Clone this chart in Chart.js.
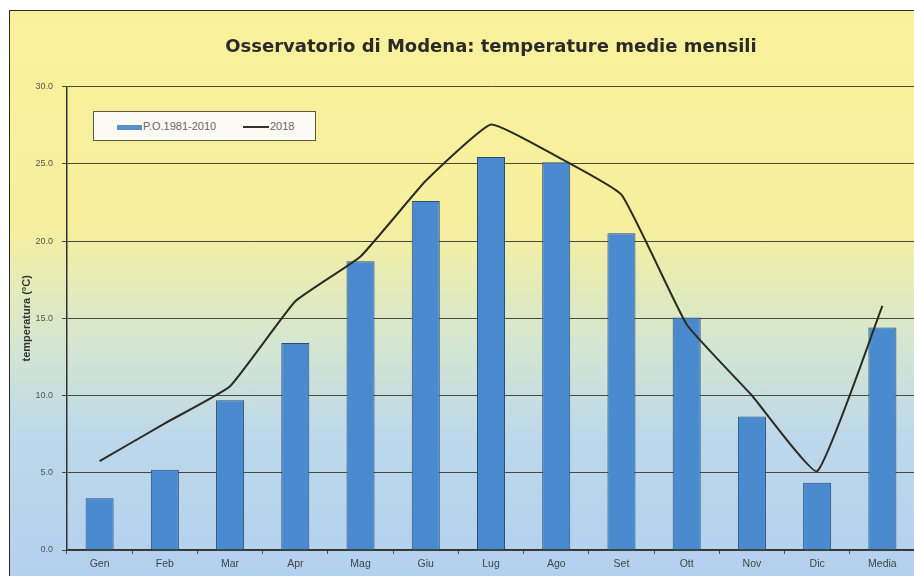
<!DOCTYPE html>
<html>
<head>
<meta charset="utf-8">
<script src="https://cdn.jsdelivr.net/npm/chart.js@4"></script>
<style>
    html, body { margin: 0; padding: 0; background: #fff; overflow: hidden; }
    #frame {
        position: absolute; left: 9px; top: 10px; width: 905px; height: 566px;
        border-top: 1px solid #2a2a2a; border-left: 1px solid #2a2a2a;
        background: linear-gradient(to bottom, #f9f19a 0%, #f6ef9e 38%, #d6e7d0 58%, #bdd8ea 75%, #b2d1ef 100%);
    }
    #wrap { position: absolute; left: 0; top: 0; width: 905px; height: 566px; }
    #legend {
        position: absolute; left: 83px; top: 100px; width: 221px; height: 28px;
        border: 1px solid #5a5a40; background: #fbfbf4;
        font-family: "Liberation Sans", Arial, sans-serif; font-size: 11px; color: #666;
    }
    #legend .item { position: absolute; top: 8px; height: 12px; line-height: 12px; white-space: nowrap; }
    #legend .sw-bar { display: inline-block; width: 25px; height: 5px; background: #5a8fc8; vertical-align: middle; margin-right: 1px; }
    #legend .sw-line { display: inline-block; width: 26px; height: 2px; background: #333; vertical-align: middle; margin-right: 1px; }
</style>
</head>
<body>
<div id="frame">
    <div id="wrap"><canvas id="chart" width="905" height="566"></canvas></div>
    <div id="legend">
        <span class="item" style="left:23px"><span class="sw-bar"></span>P.O.1981-2010</span>
        <span class="item" style="left:149px"><span class="sw-line"></span>2018</span>
    </div>
</div>
<script>
// Categories
const months = ['Gen', 'Feb', 'Mar', 'Apr', 'Mag', 'Giu', 'Lug', 'Ago', 'Set', 'Ott', 'Nov', 'Dic', 'Media'];

// Normal values (bars)
const normale = [3.35, 5.2, 9.7, 13.4, 18.7, 22.6, 25.45, 25.1, 20.5, 15.05, 8.65, 4.35, 14.4];

// Year values (line)
const anno = [5.75, 8.2, 10.6, 16.1, 19.0, 23.9, 27.55, 25.5, 23.0, 14.6, 10.0, 5.1, 15.8];

const seriesNames = ['P.O.1981-2010', '2018'];

const ctx = document.getElementById('chart').getContext('2d');

new Chart(ctx, {
    type: 'bar',
    data: {
        labels: months,
        datasets: [{
            type: 'line',
            label: seriesNames[1],
            data: anno,
            borderColor: '#2b2b22',
            borderWidth: 2,
            pointRadius: 0,
            tension: 0.12,
            fill: false,
            order: 0
        }, {
            label: seriesNames[0],
            data: normale,
            backgroundColor: '#4a8bcf',
            borderColor: '#2c4c72',
            borderWidth: 1,
            categoryPercentage: 1,
            barPercentage: 0.43,
            order: 1
        }]
    },
    options: {
        responsive: false,
        animation: false,
        layout: { padding: { top: 0, right: 0, bottom: 0, left: 0 } },
        plugins: {
            legend: { display: false },
            tooltip: { enabled: false },
            title: {
                display: true,
                fullSize: false,
                text: 'Osservatorio di Modena: temperature medie mensili',
                color: '#2a2a2a',
                font: { family: "'DejaVu Sans', sans-serif", size: 18, weight: 'bold' },
                padding: { top: 26, bottom: 28 }
            }
        },
        scales: {
            x: {
                grid: { display: true, drawOnChartArea: false, color: '#555', tickLength: 4 },
                border: { color: '#333', width: 1.5 },
                ticks: {
                    color: '#444',
                    padding: 4,
                    font: { family: "'Liberation Sans', Arial, sans-serif", size: 10.5 }
                },
                afterFit: scale => { scale.height = 27; }
            },
            y: {
                min: 0,
                max: 30,
                ticks: {
                    stepSize: 5,
                    color: '#555',
                    padding: 9,
                    font: { family: "'Liberation Sans', Arial, sans-serif", size: 9 },
                    callback: v => Number(v).toFixed(1)
                },
                grid: { color: '#4a4a3a', lineWidth: 1, tickLength: 5 },
                border: { color: '#333', width: 1.5 },
                title: {
                    display: true,
                    text: 'temperatura (°C)',
                    color: '#333',
                    font: { family: "'Liberation Sans', Arial, sans-serif", size: 11, weight: 'bold' },
                    padding: { top: 10, bottom: 0 }
                },
                afterFit: scale => { scale.width = 57; }
            }
        }
    }
});
</script>
</body>
</html>
